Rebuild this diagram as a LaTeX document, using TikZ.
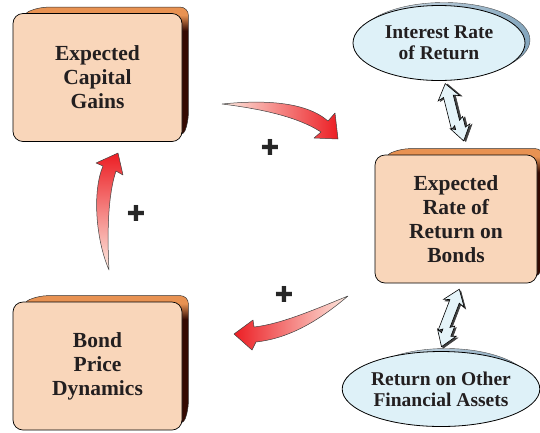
\documentclass[tikz,border=0pt]{standalone}
\usepackage{fontspec}
\setmainfont{Liberation Serif}
\newfontfamily\plusfont{DejaVu Sans}
\usetikzlibrary{shapes.geometric,calc,backgrounds}

\definecolor{peach}{RGB}{249,214,186}
\definecolor{sideorange}{RGB}{232,146,82}
\definecolor{sidedark}{RGB}{52,10,2}
\definecolor{iceblue}{RGB}{222,241,248}
\definecolor{shadeblue}{RGB}{110,150,178}
\definecolor{arrowred}{RGB}{236,30,36}
\definecolor{arrowpale}{RGB}{253,234,224}
\definecolor{textgray}{RGB}{35,31,32}
\pgfdeclareverticalshading{boxside}{100bp}{color(0bp)=(sidedark); color(25bp)=(sidedark); color(66bp)=(sidedark); color(72bp)=(sideorange); color(100bp)=(sideorange)}

\begin{document}
\begin{tikzpicture}[x=1pt,y=-1pt,every node/.style={align=center,text=textgray},
  boxface/.style={draw=black,line width=0.7pt,fill=peach,rounded corners=10pt,
    minimum height=128pt,inner sep=0pt,font=\fontsize{21.5}{24}\bfseries},
  boxback/.style={draw=black!80,line width=0.5pt,shading=boxside,rounded corners=8pt},
  ovalface/.style={ellipse,draw=black,line width=0.8pt,fill=iceblue,minimum width=172pt,
    minimum height=75pt,inner sep=0pt,font=\fontsize{19.5}{21}\bfseries},
  ovalback/.style={ellipse,draw=black!70,line width=0.4pt,left color=shadeblue!25!white,
    right color=shadeblue!85,minimum width=172pt,minimum height=75pt},
  feedback/.style={draw=black!75,line width=0.5pt,line join=round},
  plussign/.style={font=\plusfont\fontsize{22}{22}\selectfont,text=black!85,inner sep=0pt},
  twoway/.pic={
    \foreach \d/\fc/\lc in {2/black!75/black!75,0/iceblue!80!white/black}{
      \filldraw[fill=\fc,draw=\lc,line width=0.6pt,shift={(\d,\d/2)}]
        (0,-30) -- (11,-15) -- (5,-17) -- (5,9) -- (9,6) -- (9,17) -- (14,15)
        -- (4,30) -- (-6,15) -- (-1,17) -- (-1,13) -- (-5,16) -- (-5,-17)
        -- (-11,-15) -- cycle;
    }
  }]
\useasboundingbox (0,0) rectangle (540,432);
% The three boxes of the loop.
\node[boxface,minimum width=169pt] (gains) at (97.5,77.5) {Expected\\Capital\\Gains};
\node[boxface,minimum width=162pt] (rate) at (456,219) {Expected\\Rate of\\Return on\\Bonds};
\node[boxface,minimum width=169pt] (price) at (97.5,366) {Bond\\Price\\Dynamics};
% The two outside influences.
\node[ovalface] (irr) at (439,43) {Interest Rate\\of Return};
\node[ovalface] (other) at (441,389) {Return on Other\\Financial Assets};
% Depth of boxes and ovals.
\begin{scope}[on background layer]
\foreach \b in {gains,rate,price}{
  \path[boxback] ($(\b.north west)+(9,1)$) -- ($(\b.north west)+(27,-6)$)
    -- ($(\b.north east)+(6,-6)$) -- ($(\b.south east)+(6,-20)$)
    -- ($(\b.south east)+(0,-4)$) -- cycle;
}
\foreach \o in {irr,other}{
  \node[ovalback] at ($(\o.center)+(5,-3)$) {};
}
\end{scope}
% Feedback arrows between the boxes.
\coordinate (tailA) at (222,104);
\coordinate (tailB) at (109,270);
\coordinate (tailC) at (348,296);
\path[feedback,left color=arrowpale,right color=arrowred]
  (tailA) .. controls (262,100) and (305,101) .. (328,121) -- (335,113) -- (338,139)
  -- (314,138) -- (321,132) .. controls (298,117) and (262,109) .. (tailA) -- cycle;
\path[feedback,bottom color=arrowpale,top color=arrowred]
  (tailB) .. controls (96,240) and (92,192) .. (103,166) -- (96,163) -- (118,153)
  -- (123,175) -- (116,171) .. controls (108,195) and (107,232) .. (tailB) -- cycle;
\path[feedback,right color=arrowpale,left color=arrowred]
  (tailC) .. controls (318,308) and (282,324) .. (254,327) -- (253,320) -- (234,334)
  -- (252,350) -- (256,342) .. controls (292,338) and (322,318) .. (tailC) -- cycle;
\foreach \p/\x/\y in {plusA/270/147,plusB/136/213,plusC/284/294}{
  \node[plussign] (\p) at (\x,\y) {✚};
}
% Two-way links to the ovals.
\pic[rotate=14] at ($(irr.south)!0.5!(rate.north)+(5,-5)$) {twoway};
\pic[rotate=-21] at ($(rate.south)!0.5!(other.north)$) {twoway};
\end{tikzpicture}
\end{document}
